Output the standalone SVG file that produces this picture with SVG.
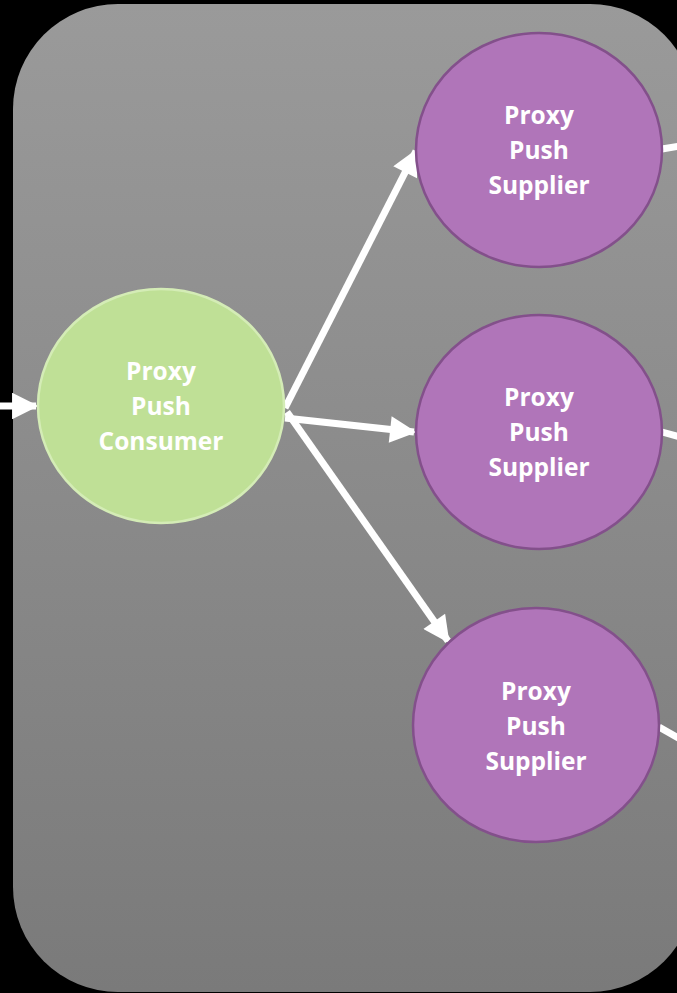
<svg xmlns="http://www.w3.org/2000/svg" width="677" height="993" viewBox="0 0 677 993">
  <defs>
    <linearGradient id="bg" x1="0" y1="0" x2="0" y2="1">
      <stop offset="0" stop-color="#9a9a9a"/>
      <stop offset="1" stop-color="#7a7a7a"/>
    </linearGradient>
    <marker id="head" viewBox="0 0 10 10" refX="9" refY="5" markerWidth="4" markerHeight="3.8" orient="auto" markerUnits="strokeWidth">
      <path d="M0,0 L10,5 L0,10 Z" fill="#ffffff"/>
    </marker>
    <style>
      .edge { stroke: #ffffff; stroke-width: 7; fill: none; }
      .supplier { fill: #b075b9; stroke: #83508b; stroke-width: 2.5; }
      .consumer { fill: #bfe096; stroke: #d4ecb6; stroke-width: 2.5; }
      .label { font-family: "Open Sans", Lato, "Liberation Sans", sans-serif; font-weight: bold; font-size: 24.5px; fill: #ffffff; text-anchor: middle; }
    </style>
  </defs>

  <rect x="0" y="0" width="677" height="993" fill="#000000"/>
  <rect x="13" y="4" width="682" height="988" rx="105" ry="105" fill="url(#bg)"/>

  <g id="connectors">
    <line class="edge" x1="0" y1="406" x2="36" y2="406" marker-end="url(#head)"/>
    <line class="edge" x1="285" y1="408" x2="416" y2="151" marker-end="url(#head)"/>
    <line class="edge" x1="285" y1="418" x2="414" y2="432" marker-end="url(#head)"/>
    <line class="edge" x1="287" y1="412" x2="448" y2="641" marker-end="url(#head)"/>
    <line class="edge" x1="662" y1="149" x2="680" y2="146"/>
    <line class="edge" x1="662" y1="432" x2="680" y2="437"/>
    <line class="edge" x1="659" y1="727" x2="680" y2="739"/>
  </g>

  <g id="consumer">
    <ellipse class="consumer" cx="161" cy="406" rx="123" ry="117"/>
    <text class="label" x="161" y="380">Proxy</text>
    <text class="label" x="161" y="415">Push</text>
    <text class="label" x="161" y="450">Consumer</text>
  </g>

  <g id="supplier1">
    <ellipse class="supplier" cx="539" cy="150" rx="123" ry="117"/>
    <text class="label" x="539" y="124">Proxy</text>
    <text class="label" x="539" y="159">Push</text>
    <text class="label" x="539" y="194">Supplier</text>
  </g>

  <g id="supplier2">
    <ellipse class="supplier" cx="539" cy="432" rx="123" ry="117"/>
    <text class="label" x="539" y="406">Proxy</text>
    <text class="label" x="539" y="441">Push</text>
    <text class="label" x="539" y="476">Supplier</text>
  </g>

  <g id="supplier3">
    <ellipse class="supplier" cx="536" cy="725" rx="123" ry="117"/>
    <text class="label" x="536" y="700">Proxy</text>
    <text class="label" x="536" y="735">Push</text>
    <text class="label" x="536" y="770">Supplier</text>
  </g>
</svg>
